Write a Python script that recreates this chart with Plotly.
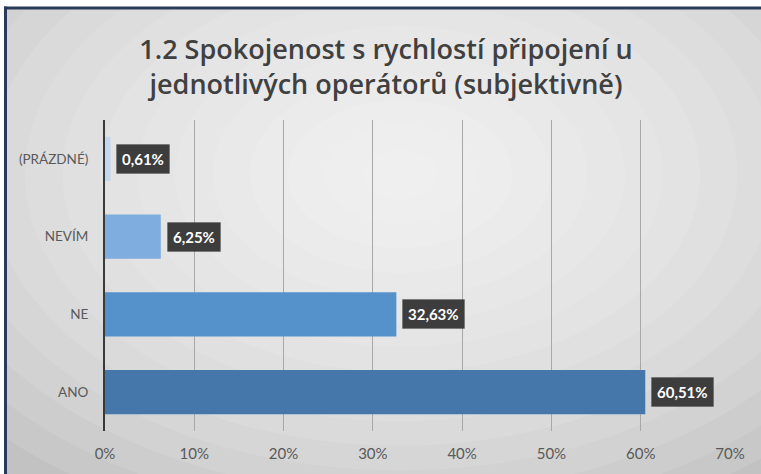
import plotly.graph_objects as go

# ---- data ----
categories = ["ANO", "NE", "NEVÍM", "(PRÁZDNÉ)"]
values = [60.51, 32.63, 6.25, 0.61]
bar_colors = ["#4677AA", "#5591CB", "#7FADDF", "#C3D7F0"]
x_ticks = [0, 10, 20, 30, 40, 50, 60, 70]
x_tick_labels = [f"{v}%" for v in x_ticks]
title_text = "1.2 Spokojenost s rychlostí připojení u<br>jednotlivých operátorů (subjektivně)"

W, H = 761, 474
L, R, T, B = 105, 31, 120, 39
PW, PH = W - L - R, H - T - B


def px(x):
    return (x - L) / PW


def py(y):
    return (H - B - y) / PH


FONT = "Lato, 'Open Sans', sans-serif"

fig = go.Figure()
fig.add_trace(go.Bar(
    x=values, y=categories, orientation="h",
    marker=dict(color=bar_colors, line=dict(width=0)),
    hoverinfo="skip", showlegend=False,
))

shapes = []
shapes.append(dict(type="rect", xref="paper", yref="paper", layer="below",
                   x0=px(5), x1=px(780), y0=py(6), y1=py(490),
                   fillcolor="#bcbcbc", line=dict(width=0)))
cx, cy = 400, 175
n = 16
for i in range(n):
    f = 1 - i / n
    rx, ry = 600 * f, 400 * f
    shapes.append(dict(type="circle", xref="paper", yref="paper", layer="below",
                       x0=px(cx - rx), x1=px(cx + rx), y0=py(cy + ry), y1=py(cy - ry),
                       fillcolor="white", opacity=0.1, line=dict(width=0)))
shapes.append(dict(type="rect", xref="paper", yref="paper", layer="below",
                   x0=px(-10), x1=px(4), y0=py(-10), y1=py(490),
                   fillcolor="white", line=dict(width=0)))
shapes.append(dict(type="rect", xref="paper", yref="paper", layer="below",
                   x0=px(-10), x1=px(780), y0=py(-10), y1=py(5),
                   fillcolor="white", line=dict(width=0)))
shapes.append(dict(type="line", xref="paper", yref="paper", layer="below",
                   x0=px(5.5), x1=px(5.5), y0=py(5), y1=py(490),
                   line=dict(color="#283b58", width=3)))
shapes.append(dict(type="line", xref="paper", yref="paper", layer="below",
                   x0=px(4), x1=px(780), y0=py(6.5), y1=py(6.5),
                   line=dict(color="#283b58", width=3)))

annotations = []
for c, v in zip(categories, values):
    txt = f"{v:.2f}%".replace(".", ",")
    annotations.append(dict(x=v, y=c, xref="x", yref="y", text=txt, showarrow=False,
                            xanchor="left", yanchor="middle", xshift=6,
                            font=dict(family=FONT, size=15, color="white", weight="bold"),
                            bgcolor="#3d3d3d", borderpad=5,
                            bordercolor="rgba(0,0,0,0.15)", borderwidth=1))

fig.update_layout(
    width=W, height=H,
    margin=dict(l=L, r=R, t=T, b=B, pad=0),
    paper_bgcolor="white",
    plot_bgcolor="rgba(0,0,0,0)",
    bargap=0.43,
    shapes=shapes,
    annotations=annotations,
    title=dict(text=title_text, x=386 / W, xref="container", xanchor="center",
               y=1 - 59 / H, yref="container", yanchor="middle",
               font=dict(family="'Open Sans', sans-serif", size=27, color="#404040",
                         weight=600)),
    font=dict(family=FONT, color="#595959", size=14),
    xaxis=dict(range=[0, 70], tickvals=x_ticks, ticktext=x_tick_labels,
               showgrid=True, gridcolor="#a8a8a8", gridwidth=1, zeroline=False,
               showline=False, ticks="", tickfont=dict(size=15, color="#595959"),
               ticklabelstandoff=12, fixedrange=True),
    yaxis=dict(showgrid=False, showline=True, linecolor="#3a3a3a", linewidth=2,
               ticks="", tickfont=dict(size=13.5, color="#595959"),
               ticklabelstandoff=12, fixedrange=True),
)

fig.write_html("out.html", config={"displayModeBar": False},
               post_script="document.body.style.margin='0';document.body.style.overflow='hidden';")
